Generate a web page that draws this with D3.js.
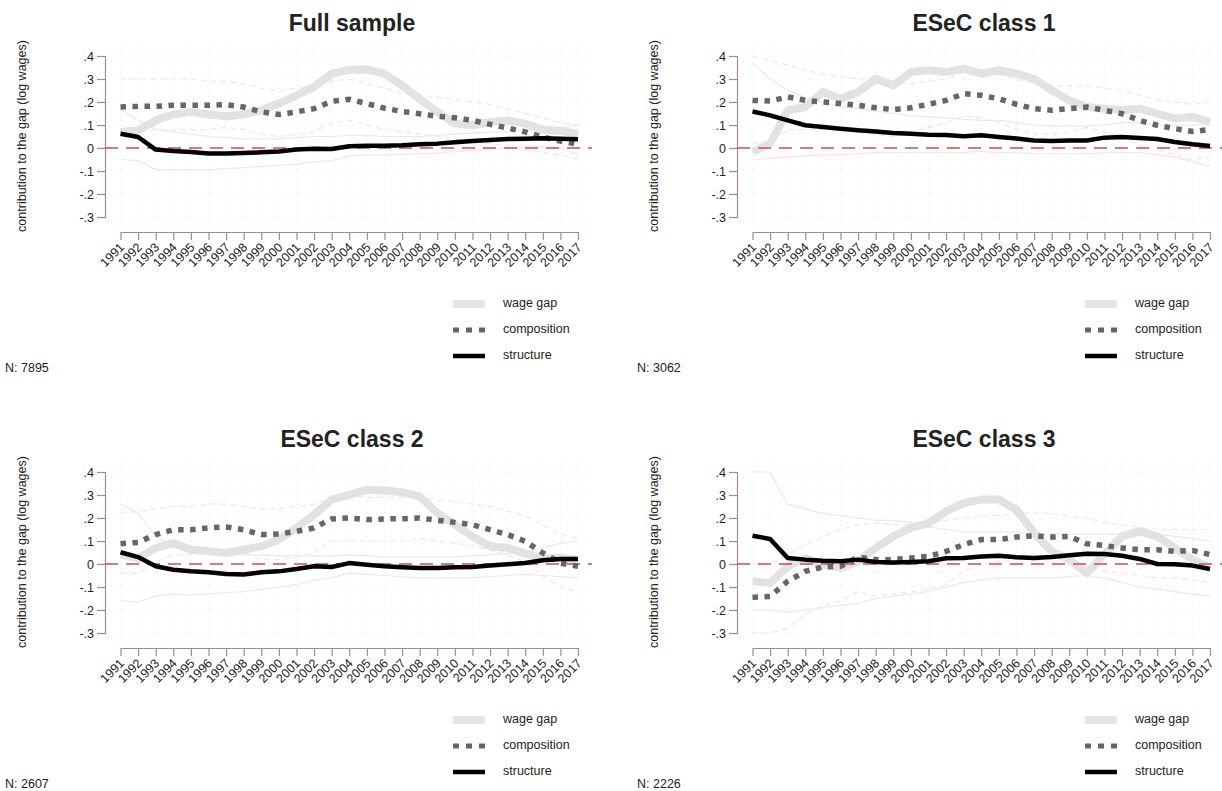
<!DOCTYPE html>
<html>
<head>
  <title>Wage gap decomposition</title>
  <script src="https://d3js.org/d3.v7.min.js"></script>
  <style>
    body {
      margin: 0;
      background: #fff;
      font-family: "Liberation Sans", Arial, Helvetica, sans-serif;
    }
    svg text { fill: #222; }
  </style>
</head>
<body>
  <svg id="chart" width="1222" height="791"></svg>

  <script>
    const years = d3.range(1991, 2018);
    const yTicks = [0.4, 0.3, 0.2, 0.1, 0, -0.1, -0.2, -0.3];
    const yTickLabels = [".4", ".3", ".2", ".1", "0", "-.1", "-.2", "-.3"];
    const titles = ["Full sample", "ESeC class 1", "ESeC class 2", "ESeC class 3"];
    const sampleSizes = ["N: 7895", "N: 3062", "N: 2607", "N: 2226"];
    const legendLabels = ["wage gap", "composition", "structure"];

    // Full sample
    const gap1 = [0.07,0.077,0.12,0.146,0.157,0.146,0.138,0.146,0.164,0.193,0.229,0.265,0.323,0.34,0.341,0.323,0.272,0.214,0.157,0.106,0.099,0.113,0.12,0.106,0.08,0.074,0.062];
    const comp1 = [0.178,0.181,0.181,0.186,0.186,0.186,0.188,0.178,0.157,0.146,0.157,0.171,0.203,0.212,0.193,0.173,0.159,0.149,0.138,0.132,0.12,0.103,0.087,0.07,0.048,0.03,0.016];
    const struc1 = [0.062,0.048,-0.007,-0.013,-0.017,-0.024,-0.024,-0.022,-0.019,-0.015,-0.007,-0.003,-0.004,0.008,0.01,0.01,0.012,0.016,0.019,0.025,0.03,0.035,0.039,0.04,0.042,0.04,0.038];
    const strucHi1 = [0.17,0.12,0.08,0.07,0.06,0.05,0.045,0.04,0.04,0.04,0.045,0.05,0.05,0.055,0.055,0.05,0.05,0.05,0.055,0.06,0.065,0.07,0.07,0.075,0.08,0.085,0.1];
    const strucLo1 = [-0.05,-0.055,-0.095,-0.095,-0.095,-0.095,-0.09,-0.085,-0.08,-0.075,-0.07,-0.06,-0.055,-0.035,-0.03,-0.03,-0.028,-0.025,-0.022,-0.015,-0.01,-0.005,0,0.005,0.005,0,-0.03];
    const compHi1 = [0.30,0.30,0.30,0.30,0.30,0.29,0.29,0.28,0.26,0.25,0.26,0.27,0.29,0.30,0.28,0.26,0.24,0.23,0.22,0.21,0.20,0.19,0.17,0.15,0.13,0.11,0.10];
    const compLo1 = [0.07,0.07,0.08,0.08,0.08,0.08,0.09,0.08,0.06,0.05,0.06,0.07,0.11,0.12,0.10,0.08,0.07,0.06,0.05,0.04,0.03,0.02,0.01,-0.01,-0.02,-0.03,-0.05];

    // ESeC class 1
    const gap2 = [-0.017,0.019,0.164,0.178,0.243,0.214,0.243,0.301,0.272,0.33,0.338,0.33,0.345,0.323,0.338,0.323,0.301,0.251,0.207,0.178,0.171,0.164,0.171,0.149,0.128,0.135,0.113];
    const comp2 = [0.207,0.204,0.222,0.207,0.2,0.193,0.186,0.175,0.167,0.175,0.19,0.207,0.236,0.229,0.214,0.19,0.171,0.164,0.171,0.178,0.164,0.149,0.12,0.099,0.084,0.072,0.08];
    const struc2 = [0.159,0.142,0.12,0.099,0.091,0.084,0.077,0.072,0.065,0.062,0.058,0.057,0.051,0.055,0.048,0.041,0.033,0.03,0.033,0.033,0.045,0.048,0.043,0.039,0.026,0.016,0.009];
    const strucHi2 = [0.37,0.30,0.25,0.22,0.20,0.18,0.17,0.16,0.15,0.14,0.135,0.13,0.125,0.12,0.12,0.11,0.10,0.095,0.095,0.095,0.10,0.11,0.11,0.10,0.10,0.10,0.10];
    const strucLo2 = [-0.05,-0.045,-0.04,-0.035,-0.03,-0.03,-0.025,-0.02,-0.02,-0.02,-0.02,-0.02,-0.02,-0.015,-0.02,-0.02,-0.025,-0.025,-0.025,-0.025,-0.02,-0.02,-0.02,-0.03,-0.04,-0.06,-0.08];
    const compHi2 = [0.40,0.38,0.36,0.34,0.32,0.31,0.30,0.29,0.28,0.28,0.29,0.30,0.33,0.33,0.32,0.30,0.28,0.27,0.27,0.27,0.26,0.25,0.23,0.21,0.20,0.19,0.20];
    const compLo2 = [0.02,0.03,0.08,0.08,0.08,0.08,0.07,0.06,0.05,0.07,0.09,0.11,0.14,0.13,0.11,0.08,0.06,0.06,0.07,0.09,0.07,0.05,0.01,-0.01,-0.03,-0.05,-0.04];

    // ESeC class 2
    const gap3 = [0.04,0.025,0.07,0.091,0.062,0.055,0.048,0.062,0.077,0.106,0.157,0.214,0.28,0.301,0.323,0.32,0.312,0.294,0.222,0.171,0.12,0.077,0.07,0.045,0.026,0.026,0.019];
    const comp3 = [0.088,0.094,0.128,0.149,0.149,0.157,0.161,0.149,0.128,0.13,0.142,0.157,0.196,0.2,0.193,0.196,0.197,0.2,0.19,0.181,0.171,0.149,0.128,0.099,0.048,0.004,-0.01];
    const struc3 = [0.051,0.03,-0.01,-0.025,-0.032,-0.036,-0.043,-0.046,-0.036,-0.032,-0.022,-0.01,-0.013,0.004,-0.003,-0.01,-0.014,-0.017,-0.017,-0.014,-0.013,-0.007,-0.001,0.004,0.016,0.022,0.022];
    const strucHi3 = [0.26,0.22,0.12,0.08,0.06,0.05,0.04,0.04,0.04,0.035,0.035,0.035,0.035,0.04,0.035,0.03,0.03,0.03,0.03,0.03,0.035,0.04,0.045,0.05,0.07,0.09,0.10];
    const strucLo3 = [-0.16,-0.165,-0.14,-0.13,-0.135,-0.13,-0.125,-0.12,-0.11,-0.10,-0.09,-0.07,-0.06,-0.04,-0.045,-0.05,-0.055,-0.06,-0.06,-0.06,-0.06,-0.055,-0.05,-0.045,-0.05,-0.055,-0.06];
    const compHi3 = [0.22,0.23,0.24,0.25,0.25,0.26,0.26,0.25,0.24,0.24,0.25,0.26,0.29,0.30,0.29,0.29,0.29,0.29,0.28,0.27,0.26,0.25,0.23,0.21,0.17,0.13,0.11];
    const compLo3 = [-0.04,-0.04,0.01,0.04,0.04,0.05,0.06,0.05,0.02,0.02,0.03,0.05,0.10,0.10,0.10,0.10,0.10,0.11,0.10,0.09,0.08,0.06,0.04,0.01,-0.05,-0.10,-0.12];

    // ESeC class 3
    const gap4 = [-0.075,-0.083,-0.01,0.026,-0.003,-0.017,0.012,0.07,0.12,0.157,0.178,0.229,0.265,0.28,0.28,0.236,0.135,0.055,0.019,-0.039,0.041,0.12,0.142,0.12,0.07,0.019,-0.017];
    const comp4 = [-0.145,-0.141,-0.075,-0.032,-0.013,-0.01,0.03,0.019,0.019,0.026,0.033,0.055,0.084,0.106,0.106,0.117,0.123,0.117,0.12,0.088,0.08,0.07,0.062,0.062,0.055,0.059,0.041];
    const struc4 = [0.123,0.109,0.026,0.019,0.014,0.012,0.019,0.009,0.007,0.009,0.012,0.025,0.026,0.033,0.036,0.029,0.026,0.03,0.038,0.045,0.043,0.036,0.022,0,-0.001,-0.007,-0.022];
    const strucHi4 = [0.40,0.40,0.26,0.24,0.22,0.21,0.20,0.19,0.19,0.18,0.16,0.15,0.14,0.14,0.14,0.14,0.13,0.13,0.13,0.13,0.13,0.13,0.13,0.13,0.12,0.11,0.10];
    const strucLo4 = [-0.20,-0.20,-0.21,-0.20,-0.19,-0.18,-0.17,-0.15,-0.14,-0.13,-0.12,-0.10,-0.08,-0.07,-0.06,-0.06,-0.06,-0.06,-0.055,-0.05,-0.06,-0.08,-0.10,-0.11,-0.12,-0.13,-0.14];
    const compHi4 = [0.00,0.00,0.04,0.08,0.12,0.15,0.17,0.18,0.17,0.17,0.18,0.19,0.20,0.21,0.21,0.22,0.22,0.22,0.21,0.20,0.18,0.17,0.16,0.15,0.15,0.15,0.15];
    const compLo4 = [-0.30,-0.30,-0.28,-0.22,-0.18,-0.16,-0.12,-0.14,-0.13,-0.12,-0.11,-0.09,-0.03,0.00,0.01,0.02,0.02,0.01,0.02,-0.01,-0.03,-0.04,-0.05,-0.06,-0.06,-0.07,-0.08];

    const panels = [
      { ox: 0,   oy: 0,   gap: gap1, comp: comp1, struc: struc1, sHi: strucHi1, sLo: strucLo1, cHi: compHi1, cLo: compLo1 },
      { ox: 632, oy: 0,   gap: gap2, comp: comp2, struc: struc2, sHi: strucHi2, sLo: strucLo2, cHi: compHi2, cLo: compLo2 },
      { ox: 0,   oy: 416, gap: gap3, comp: comp3, struc: struc3, sHi: strucHi3, sLo: strucLo3, cHi: compHi3, cLo: compLo3 },
      { ox: 632, oy: 416, gap: gap4, comp: comp4, struc: struc4, sHi: strucHi4, sLo: strucLo4, cHi: compHi4, cLo: compLo4 }
    ];

    const axisColor = "#a18c88";
    const svg = d3.select("#chart");

    panels.forEach((p, i) => {
      const g = svg.append("g").attr("transform", `translate(${p.ox},${p.oy})`);
      const x = d3.scaleLinear().domain([1991, 2017]).range([120.5, 578]);
      const y = d3.scaleLinear().domain([-0.3, 0.4]).range([217, 56]);

      // faint grid
      g.append("g").selectAll("line").data(years).join("line")
        .attr("x1", d => x(d)).attr("x2", d => x(d))
        .attr("y1", 44).attr("y2", 222)
        .attr("stroke", "#eeeeee").attr("stroke-width", 1).attr("stroke-dasharray", "1,3");
      g.append("g").selectAll("line").data(yTicks.filter(d => d !== 0)).join("line")
        .attr("x1", 108).attr("x2", 590)
        .attr("y1", d => y(d)).attr("y2", d => y(d))
        .attr("stroke", "#eeeeee").attr("stroke-width", 1).attr("stroke-dasharray", "1,3");

      // y axis
      const yAxis = d3.axisLeft(y).tickValues(yTicks)
        .tickFormat((d, k) => yTickLabels[k]).tickSize(8).tickPadding(3);
      const ya = g.append("g").attr("transform", "translate(105,0)").call(yAxis);
      ya.select(".domain").attr("stroke", axisColor).attr("stroke-width", 1.2);
      ya.selectAll(".tick line").attr("stroke", axisColor).attr("stroke-width", 1.2);
      ya.selectAll(".tick text").attr("font-size", 12.5).attr("fill", "#222")
        .attr("font-family", "Liberation Sans, Arial, sans-serif");

      // x axis, labels slanted so that each one ends at its tick
      const xAxis = d3.axisBottom(x).tickValues(years).tickFormat(d3.format("d")).tickSize(8).tickSizeOuter(0);
      const xa = g.append("g").attr("transform", "translate(0,232)").call(xAxis);
      xa.select(".domain").attr("stroke", axisColor).attr("stroke-width", 1.2);
      xa.selectAll(".tick line").attr("stroke", axisColor).attr("stroke-width", 1.2);
      xa.selectAll(".tick text")
        .attr("font-size", 12.5).attr("fill", "#222")
        .attr("font-family", "Liberation Sans, Arial, sans-serif")
        .attr("text-anchor", "end")
        .attr("x", 0).attr("y", 0).attr("dy", 0)
        .attr("transform", "translate(4,16) rotate(-45)");

      // y label
      g.append("text")
        .attr("transform", "translate(26,136) rotate(-90)")
        .attr("text-anchor", "middle")
        .attr("font-size", 12.5)
        .text("contribution to the gap (log wages)");

      // title
      g.append("text")
        .attr("x", 352).attr("y", 31)
        .attr("text-anchor", "middle")
        .attr("font-size", 23).attr("font-weight", "bold")
        .attr("fill", "#111")
        .text(titles[i]);

      const line = arr => d3.line().x((d, k) => x(years[k])).y(d => y(d))(arr);

      // confidence bounds
      [p.sHi, p.sLo].forEach(arr => g.append("path").attr("d", line(arr))
        .attr("fill", "none").attr("stroke", "#e9e9e9").attr("stroke-width", 1.2));
      [p.cHi, p.cLo].forEach(arr => g.append("path").attr("d", line(arr))
        .attr("fill", "none").attr("stroke", "#e9e9e9").attr("stroke-width", 1.2)
        .attr("stroke-dasharray", "6,4"));

      // wage gap
      g.append("path").attr("d", line(p.gap))
        .attr("fill", "none").attr("stroke", "#e2e2e2").attr("stroke-width", 8)
        .attr("stroke-linejoin", "round");

      // zero reference
      g.append("line")
        .attr("x1", 105).attr("x2", 592).attr("y1", y(0)).attr("y2", y(0))
        .attr("stroke", "#c9504c").attr("stroke-width", 1.6).attr("stroke-dasharray", "13,8");

      // composition
      g.append("path").attr("d", line(p.comp))
        .attr("fill", "none").attr("stroke", "#666").attr("stroke-width", 5.5)
        .attr("stroke-dasharray", "5.5,6.5");

      // structure
      g.append("path").attr("d", line(p.struc))
        .attr("fill", "none").attr("stroke", "#000").attr("stroke-width", 4.5)
        .attr("stroke-linejoin", "round");

      // legend
      const lg = g.append("g");
      const ly = [304, 330, 356];
      lg.append("line").attr("x1", 453).attr("x2", 485).attr("y1", ly[0]).attr("y2", ly[0])
        .attr("stroke", "#e4e4e4").attr("stroke-width", 8);
      lg.append("line").attr("x1", 453).attr("x2", 485).attr("y1", ly[1]).attr("y2", ly[1])
        .attr("stroke", "#666").attr("stroke-width", 5).attr("stroke-dasharray", "6,7");
      lg.append("line").attr("x1", 453).attr("x2", 485).attr("y1", ly[2]).attr("y2", ly[2])
        .attr("stroke", "#000").attr("stroke-width", 4.5);
      lg.selectAll("text").data(legendLabels).join("text")
        .attr("x", 503).attr("y", (d, k) => ly[k])
        .attr("dominant-baseline", "middle")
        .attr("font-size", 12.5)
        .text(d => d);

      // sample size
      g.append("text")
        .attr("x", 5).attr("y", 372)
        .attr("font-size", 12.5)
        .text(sampleSizes[i]);
    });
  </script>
</body>
</html>
